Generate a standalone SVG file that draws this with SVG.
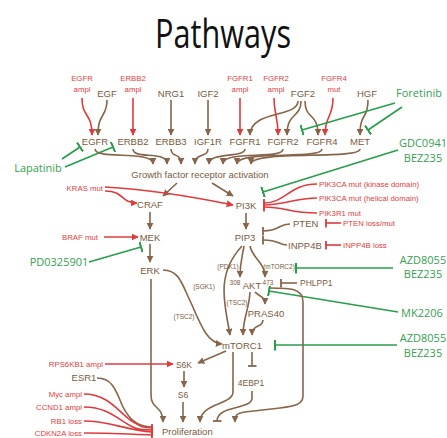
<svg xmlns="http://www.w3.org/2000/svg" width="447" height="438" viewBox="0 0 447 438">
<style>
text{font-family:"Liberation Sans",Arial,sans-serif;}
.t{font-family:"Open Sans","Liberation Sans",sans-serif;font-size:41px;fill:#111;}
.n{font-size:9.5px;fill:#7a5a3c;}
.s{font-size:8.5px;fill:#7a5a3c;}
.p{font-size:6.5px;fill:#7a5a3c;}
.r{font-size:7.8px;fill:#e0403f;}
.g{font-family:"Open Sans","Liberation Sans",sans-serif;font-size:11px;fill:#35a052;}
.lb{fill:none;stroke:#86654a;stroke-width:1.6;}
.lr{fill:none;stroke:#e03a3c;stroke-width:1.6;}
.lg{fill:none;stroke:#2a9d4a;stroke-width:1.7;}
.ab{marker-end:url(#ab);}
.ar{marker-end:url(#ar);}
.tb{marker-end:url(#tb);}
.tr{marker-end:url(#tr);}
.tg{marker-end:url(#tg);}
</style>
<defs>
<marker id="ab" viewBox="0 0 10 10" refX="9" refY="5" markerWidth="7" markerHeight="7" markerUnits="userSpaceOnUse" orient="auto"><path d="M0,0L10,5L0,10z" fill="#86654a"/></marker>
<marker id="ar" viewBox="0 0 10 10" refX="9" refY="5" markerWidth="7" markerHeight="7" markerUnits="userSpaceOnUse" orient="auto"><path d="M0,0L10,5L0,10z" fill="#e03a3c"/></marker>
<marker id="tb" viewBox="0 0 2 10" refX="1" refY="5" markerWidth="2" markerHeight="9" markerUnits="userSpaceOnUse" orient="auto"><rect width="2" height="10" fill="#86654a"/></marker>
<marker id="tr" viewBox="0 0 2 10" refX="1" refY="5" markerWidth="2" markerHeight="9" markerUnits="userSpaceOnUse" orient="auto"><rect width="2" height="10" fill="#e03a3c"/></marker>
<marker id="tg" viewBox="0 0 2 10" refX="1" refY="5" markerWidth="2.2" markerHeight="11" markerUnits="userSpaceOnUse" orient="auto"><rect width="2" height="10" fill="#2a9d4a"/></marker>
</defs>
<rect width="447" height="438" fill="#fff"/>
<text class="t" x="223" y="48" text-anchor="middle" textLength="136" lengthAdjust="spacingAndGlyphs">Pathways</text>

<g id="connectors">
<path class="lr ar" d="M82,98 C82,118 92,112 92,135"/>
<path class="lb ab" d="M107,100 C107,118 98,112 98,135"/>
<path class="lr ar" d="M133,98 L133,135"/>
<path class="lb ab" d="M171,100 L171,135"/>
<path class="lb ab" d="M208,100 L208,135"/>
<path class="lr ar" d="M240,98 L240,135"/>
<path class="lb ab" d="M298,101 C298,118 250,110 250,135"/>
<path class="lr ar" d="M274,98 C274,115 278,115 278,135"/>
<path class="lb ab" d="M301,101 C301,118 287,112 287,135"/>
<path class="lb ab" d="M305,101 C305,120 318,112 318,135"/>
<path class="lr ar" d="M333,98 C333,118 325,115 325,135"/>
<path class="lb ab" d="M368,100 C368,120 360,112 360,135"/>
<path class="lg tg" d="M395,103 L302,130"/>
<path class="lg tg" d="M402,107 L368,130"/>
<path class="lg tg" d="M62,159 L80,147"/>
<path class="lg tg" d="M65,167 L113,147"/>
<path class="lb ab" d="M95,149 C95,160 153,150 153,164"/>
<path class="lb ab" d="M133,149 C133,160 167,150 167,164"/>
<path class="lb ab" d="M171,149 C171,158 181,152 181,164"/>
<path class="lb ab" d="M208,149 C208,158 195,152 195,164"/>
<path class="lb ab" d="M245,149 C245,158 209,152 209,164"/>
<path class="lb ab" d="M283,149 C283,160 223,150 223,164"/>
<path class="lb ab" d="M322,149 C322,160 237,150 237,164"/>
<path class="lb ab" d="M360,149 C360,160 251,150 251,164"/>
<path class="lb ab" d="M177,183 L163,196"/>
<path class="lb ab" d="M212,183 L233,196"/>
<path class="lr ar" d="M105,187 Q160,190 233,205"/>
<path class="lr ar" d="M105,191 C125,191 120,203 137,203"/>
<path class="lb ab" d="M150,212 L150,229"/>
<path class="lr ar" d="M104,237 L138,237"/>
<path class="lb ab" d="M150,244 L150,262"/>
<path class="lg tg" d="M89,262 L141,247"/>
<path class="lb ab" d="M151,279 L151,395 C151,410 163,405 163,422"/>
<path class="lg tg" d="M398,150 L263,192"/>
<path class="lr tr" d="M317,184 C290,184 285,203 264,203"/>
<path class="lr tr" d="M317,198 C295,198 285,205 264,205"/>
<path class="lr tr" d="M317,213 C290,213 285,207 264,207"/>
<path class="lb ab" d="M246,213 L246,229"/>
<path class="lb tb" d="M290,224 C278,224 280,231 263,231"/>
<path class="lb tb" d="M287,245 C278,245 280,240 263,240"/>
<path class="lr tr" d="M341,223 L326,223"/>
<path class="lr tr" d="M341,245 L326,245"/>
<path class="lb ab" d="M244,246 C242,258 240,262 240,277"/>
<path class="lb ab" d="M250,246 C252,258 265,262 265,277"/>
<path class="lb ab" d="M242,246 C215,275 225,305 230,335"/>
<path class="lb ab" d="M163,270 C180,270 182,285 192,305 C202,328 208,343 222,344"/>
<path class="lb ab" d="M250,292 C249,310 243,318 243,335"/>
<path class="lb ab" d="M255,292 C258,296 265,296 265,304"/>
<path class="lb ab" d="M263,320 C263,328 252,324 252,335"/>
<path class="lb tb" d="M297,283 L281,283"/>
<path class="lg tg" d="M393,268 L296,268"/>
<path class="lg tg" d="M398,312 L269,291"/>
<path class="lg tg" d="M397,345 L275,345"/>
<path class="lb ab" d="M270,288 C290,288 303,288 303,302 L303,396 C303,404 296,406 280,408 L245,412 C237,413 235,415 235,422"/>
<path class="lb ab" d="M226,351 L198,363"/>
<path class="lr ar" d="M105,364 L173,364"/>
<path class="lb ab" d="M184,371 L184,387"/>
<path class="lb ab" d="M183,402 L183,422"/>
<path class="lb ab" d="M233,352 L233,392 C233,405 200,403 200,422"/>
<path class="lb tb" d="M252,352 L252,366"/>
<path class="lb tb" d="M252,391 L252,398 C252,410 217,405 217,421"/>
<path class="lb" d="M97,378 C112,378 116,390 122,405 C130,422 140,427 153,427"/>
<path class="lr tr" d="M84,394 C110,394 120,415 135,423 C140,427 145,428 152,428"/>
<path class="lr tr" d="M84,407 C110,407 120,422 135,428 C140,430 145,430 152,430"/>
<path class="lr tr" d="M84,421 C110,421 125,430 152,432"/>
<path class="lr tr" d="M84,433 C110,433 130,434 152,435"/>
</g>

<g id="n-egfr-ampl"><text class="r" x="82" y="81" text-anchor="middle">EGFR</text><text class="r" x="82" y="92" text-anchor="middle">ampl</text></g>
<g id="n-egf"><text class="n" x="107" y="97" text-anchor="middle">EGF</text></g>
<g id="n-erbb2-ampl"><text class="r" x="133" y="81" text-anchor="middle">ERBB2</text><text class="r" x="133" y="92" text-anchor="middle">ampl</text></g>
<g id="n-nrg1"><text class="n" x="171" y="97" text-anchor="middle">NRG1</text></g>
<g id="n-igf2"><text class="n" x="208" y="97" text-anchor="middle">IGF2</text></g>
<g id="n-fgfr1-ampl"><text class="r" x="240" y="81" text-anchor="middle">FGFR1</text><text class="r" x="240" y="92" text-anchor="middle">ampl</text></g>
<g id="n-fgfr2-ampl"><text class="r" x="276" y="81" text-anchor="middle">FGFR2</text><text class="r" x="276" y="92" text-anchor="middle">ampl</text></g>
<g id="n-fgf2"><text class="n" x="303" y="97" text-anchor="middle">FGF2</text></g>
<g id="n-fgfr4-mut"><text class="r" x="334" y="81" text-anchor="middle">FGFR4</text><text class="r" x="334" y="92" text-anchor="middle">mut</text></g>
<g id="n-hgf"><text class="n" x="367" y="97" text-anchor="middle">HGF</text></g>
<g id="n-foretinib"><text class="g" x="419" y="97" text-anchor="middle">Foretinib</text></g>

<g id="n-egfr"><text class="n" x="95" y="145" text-anchor="middle">EGFR</text></g>
<g id="n-erbb2"><text class="n" x="133" y="145" text-anchor="middle">ERBB2</text></g>
<g id="n-erbb3"><text class="n" x="171" y="145" text-anchor="middle">ERBB3</text></g>
<g id="n-igf1r"><text class="n" x="208" y="145" text-anchor="middle">IGF1R</text></g>
<g id="n-fgfr1"><text class="n" x="245" y="145" text-anchor="middle">FGFR1</text></g>
<g id="n-fgfr2"><text class="n" x="283" y="145" text-anchor="middle">FGFR2</text></g>
<g id="n-fgfr4"><text class="n" x="322" y="145" text-anchor="middle">FGFR4</text></g>
<g id="n-met"><text class="n" x="360" y="145" text-anchor="middle">MET</text></g>
<g id="n-lapatinib"><text class="g" x="38" y="172" text-anchor="middle">Lapatinib</text></g>
<g id="n-gdc"><text class="g" x="423" y="147" text-anchor="middle">GDC0941</text><text class="g" x="423" y="162" text-anchor="middle">BEZ235</text></g>

<g id="n-gfra"><text class="n" x="200" y="178" text-anchor="middle" font-size="9.3">Growth factor receptor activation</text></g>
<g id="n-kras"><text class="r" x="103" y="191" text-anchor="end">KRAS mut</text></g>
<g id="n-craf"><text class="n" x="150" y="208" text-anchor="middle">CRAF</text></g>
<g id="n-pi3k"><text class="n" x="246" y="209" text-anchor="middle">PI3K</text></g>
<g id="n-pik3ca-k"><text class="r" x="319" y="187">PIK3CA mut (kinase domain)</text></g>
<g id="n-pik3ca-h"><text class="r" x="319" y="201">PIK3CA mut (helical domain)</text></g>
<g id="n-pik3r1"><text class="r" x="319" y="216">PIK3R1 mut</text></g>
<g id="n-pten"><text class="n" x="293" y="227">PTEN</text></g>
<g id="n-pten-loss"><text class="r" x="343" y="226">PTEN loss/mut</text></g>
<g id="n-inpp4b"><text class="n" x="288" y="249">INPP4B</text></g>
<g id="n-inpp4b-loss"><text class="r" x="343" y="248">INPP4B loss</text></g>
<g id="n-braf"><text class="r" x="98" y="240" text-anchor="end">BRAF mut</text></g>
<g id="n-mek"><text class="n" x="150" y="241" text-anchor="middle">MEK</text></g>
<g id="n-pip3"><text class="n" x="245" y="241" text-anchor="middle">PIP3</text></g>
<g id="n-pd"><text class="g" x="59" y="266" text-anchor="middle">PD0325901</text></g>
<g id="n-erk"><text class="n" x="150" y="274" text-anchor="middle">ERK</text></g>
<g id="n-azd1"><text class="g" x="423" y="264" text-anchor="middle">AZD8055</text><text class="g" x="423" y="278" text-anchor="middle">BEZ235</text></g>

<g id="l-pdk1"><text class="p" x="228" y="269" text-anchor="middle">(PDK1)</text></g>
<g id="l-mtorc2"><text class="p" x="279" y="269" text-anchor="middle">(mTORC2)</text></g>
<g id="n-akt"><text class="n" x="252" y="289" text-anchor="middle">AKT</text><text class="p" x="235" y="285" text-anchor="middle" font-size="5.5">308</text><text class="p" x="268" y="285" text-anchor="middle" font-size="5.5">473</text></g>
<g id="n-phlpp1"><text class="s" x="300" y="286">PHLPP1</text></g>
<g id="l-sgk1"><text class="p" x="204" y="289" text-anchor="middle">(SGK1)</text></g>
<g id="l-tsc2a"><text class="p" x="237" y="305" text-anchor="middle">(TSC2)</text></g>
<g id="l-tsc2b"><text class="p" x="184" y="319" text-anchor="middle">(TSC2)</text></g>
<g id="n-pras40"><text class="n" x="266" y="317" text-anchor="middle">PRAS40</text></g>
<g id="n-mk2206"><text class="g" x="422" y="317" text-anchor="middle">MK2206</text></g>
<g id="n-mtorc1"><text class="n" x="242" y="349" text-anchor="middle">mTORC1</text></g>
<g id="n-azd2"><text class="g" x="423" y="342" text-anchor="middle">AZD8055</text><text class="g" x="423" y="357" text-anchor="middle">BEZ235</text></g>

<g id="n-rps6kb1"><text class="r" x="103" y="367" text-anchor="end">RPS6KB1 ampl</text></g>
<g id="n-s6k"><text class="s" x="184" y="368" text-anchor="middle">S6K</text></g>
<g id="n-esr1"><text class="n" x="84" y="381" text-anchor="middle">ESR1</text></g>
<g id="n-4ebp1"><text class="s" x="251" y="386" text-anchor="middle">4EBP1</text></g>
<g id="n-s6"><text class="s" x="183" y="398" text-anchor="middle">S6</text></g>
<g id="n-myc"><text class="r" x="82" y="397" text-anchor="end">Myc ampl</text></g>
<g id="n-ccnd1"><text class="r" x="82" y="410" text-anchor="end">CCND1 ampl</text></g>
<g id="n-rb1"><text class="r" x="82" y="424" text-anchor="end">RB1 loss</text></g>
<g id="n-cdkn2a"><text class="r" x="82" y="436" text-anchor="end">CDKN2A loss</text></g>
<g id="n-prolif"><text class="n" x="162" y="435" font-size="14.5">Proliferation</text></g>
</svg>
